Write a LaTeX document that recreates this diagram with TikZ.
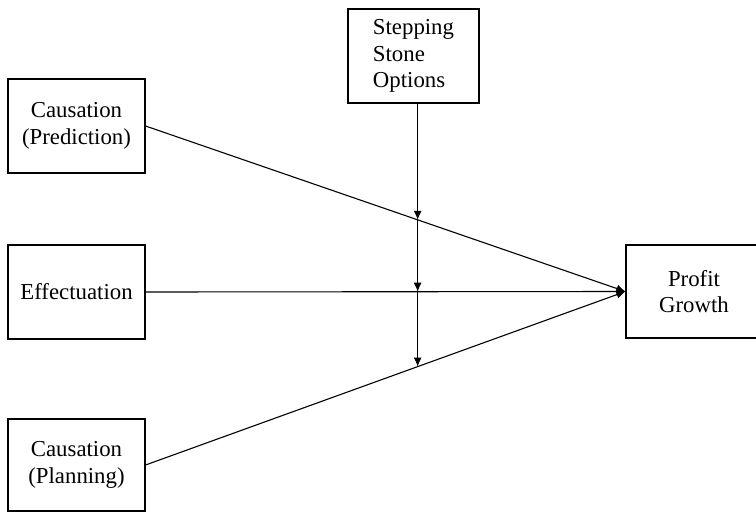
\documentclass[tikz,border=0pt]{standalone}
\usepackage{fontspec}
\setmainfont{Liberation Serif}
\usetikzlibrary{arrows.meta}
\begin{document}
\begin{tikzpicture}[x=1pt,y=-1pt,
  box/.style={draw,line width=1.1pt,minimum width=137pt,inner sep=0pt,align=center,font=\fontsize{22.8}{26.5}\selectfont},
  conn/.style={line width=1.1pt,-{Latex[length=9pt,width=8pt]}},
  line/.style={line width=1pt}]
\useasboundingbox (0,0) rectangle (756,512);
\clip (0,0) rectangle (756,512);
\node[box,minimum height=94pt] (pred) at (76.5,126) {Causation\\(Prediction)};
\node[box,minimum height=94pt] (eff) at (76.5,292) {Effectuation};
\node[box,minimum height=92pt] (plan) at (76.5,465) {Causation\\(Planning)};
\node[box,minimum width=131pt,minimum height=94pt,align=left] (ss) at (413.5,56) {Stepping\\Stone\\Options};
\node[box,minimum width=136pt,minimum height=93pt] (pg) at (694,291.5) {Profit\\Growth};
\draw[conn] (pred.east) -- (pg.west);
\draw[conn] (eff.east) -- (pg.west);
\draw[conn] (plan.east) -- (pg.west);
\path (pred.east) -- (pg.west) coordinate[pos=0.567] (i1);
\path (eff.east) -- (pg.west) coordinate[pos=0.567] (i2);
\path (plan.east) -- (pg.west) coordinate[pos=0.567] (i3);
\draw[conn] (ss.south -| i1) -- (i1);
\draw[conn] (i1) -- (i2);
\draw[conn] (i2) -- (i3);
\end{tikzpicture}
\end{document}
